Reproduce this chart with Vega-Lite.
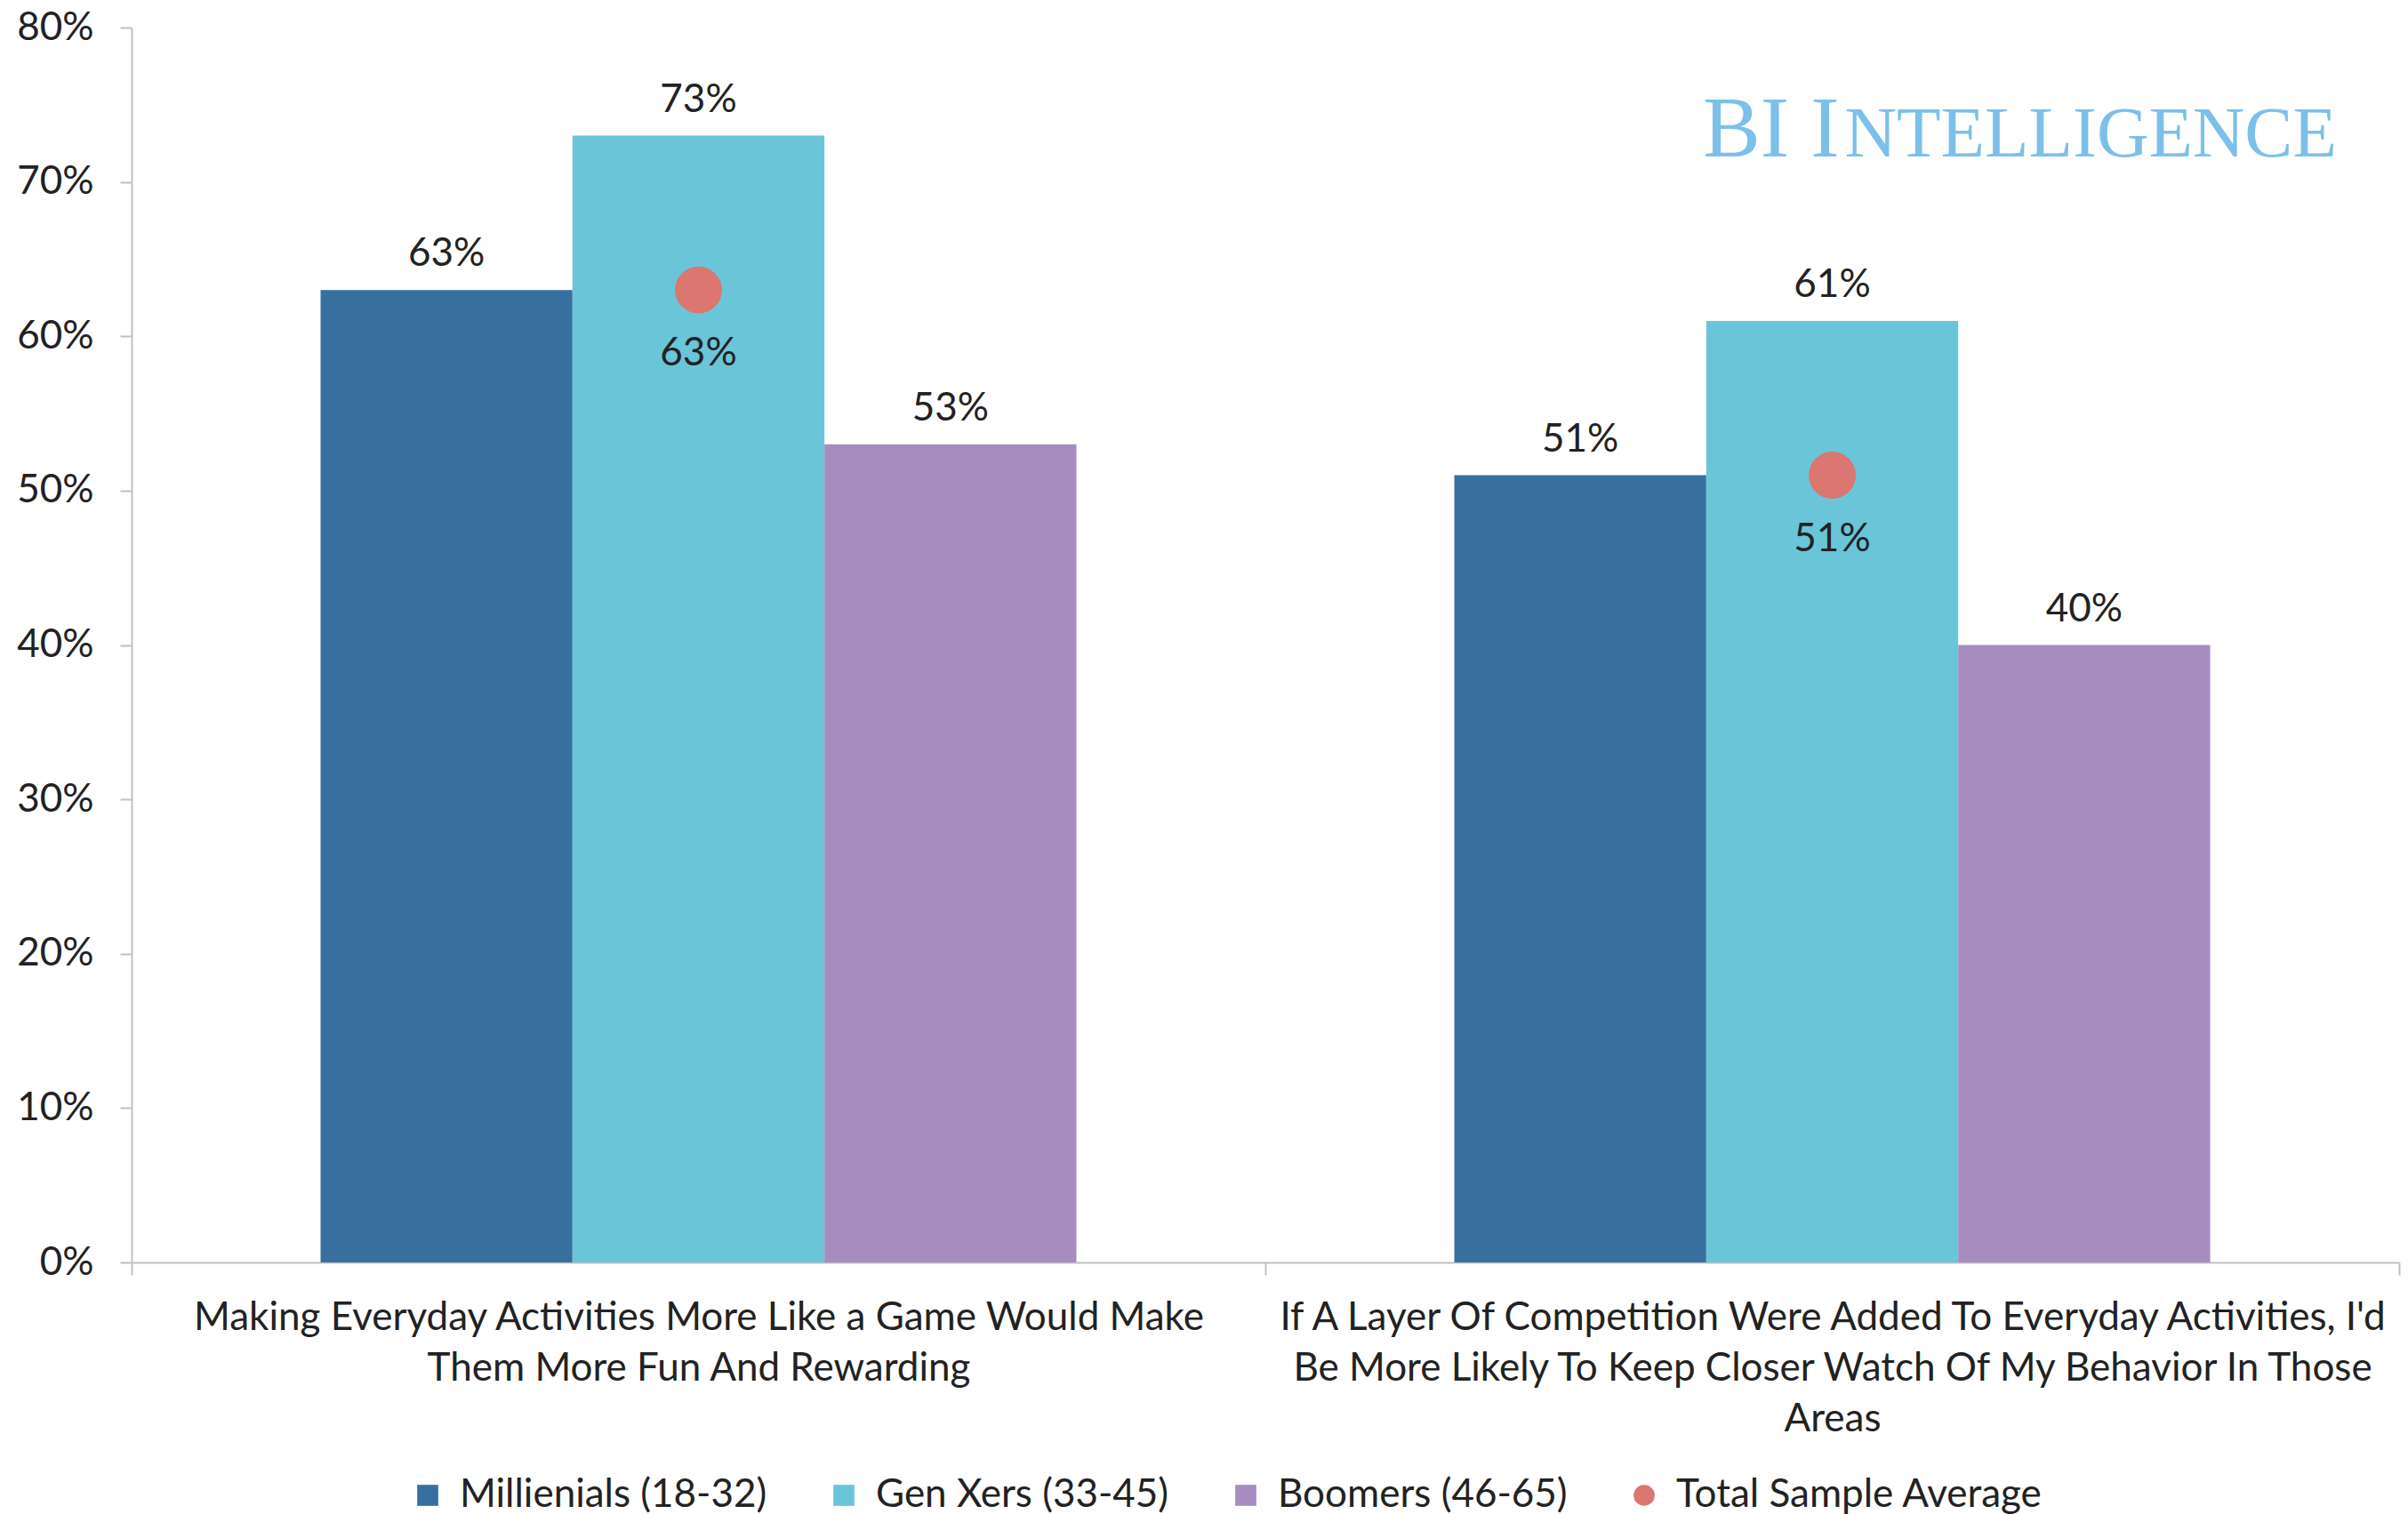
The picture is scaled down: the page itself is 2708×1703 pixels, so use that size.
{
  "$schema": "https://vega.github.io/schema/vega-lite/v6.json",
  "width": 2550,
  "height": 1389,
  "autosize": {"type": "none"},
  "padding": {"left": 148, "top": 31, "right": 10, "bottom": 283},
  "background": "white",
  "config": {
    "font": "Lato",
    "view": {"stroke": null},
    "axis": {"labelFont": "Lato", "labelFontSize": 44, "labelColor": "#222222", "domainColor": "#c0c0c0", "tickColor": "#c0c0c0", "domainWidth": 2, "tickWidth": 2, "grid": false, "title": null, "labelOverlap": false},
    "legend": {"labelFont": "Lato", "labelFontSize": 44, "labelColor": "#222222", "labelLimit": 1000, "symbolSize": 560, "labelOffset": 14, "columnPadding": 64, "symbolStrokeWidth": 0}
  },
  "datasets": {
    "bars": [
      {"q": "Making Everyday Activities More Like a Game Would Make|Them More Fun And Rewarding", "series": "Millienials (18-32)", "value": 0.63},
      {"q": "Making Everyday Activities More Like a Game Would Make|Them More Fun And Rewarding", "series": "Gen Xers (33-45)", "value": 0.73},
      {"q": "Making Everyday Activities More Like a Game Would Make|Them More Fun And Rewarding", "series": "Boomers (46-65)", "value": 0.53},
      {"q": "If A Layer Of Competition Were Added To Everyday Activities, I'd|Be More Likely To Keep Closer Watch Of My Behavior In Those|Areas", "series": "Millienials (18-32)", "value": 0.51},
      {"q": "If A Layer Of Competition Were Added To Everyday Activities, I'd|Be More Likely To Keep Closer Watch Of My Behavior In Those|Areas", "series": "Gen Xers (33-45)", "value": 0.61},
      {"q": "If A Layer Of Competition Were Added To Everyday Activities, I'd|Be More Likely To Keep Closer Watch Of My Behavior In Those|Areas", "series": "Boomers (46-65)", "value": 0.40}
    ],
    "avg": [
      {"q": "Making Everyday Activities More Like a Game Would Make|Them More Fun And Rewarding", "series": "Total Sample Average", "pos": "Gen Xers (33-45)", "value": 0.63},
      {"q": "If A Layer Of Competition Were Added To Everyday Activities, I'd|Be More Likely To Keep Closer Watch Of My Behavior In Those|Areas", "series": "Total Sample Average", "pos": "Gen Xers (33-45)", "value": 0.51}
    ],
    "brand": [
      {"big": "BI I", "small": "NTELLIGENCE"}
    ]
  },
  "layer": [
    {
      "data": {"name": "bars"},
      "mark": {"type": "bar"},
      "encoding": {
        "x": {"field": "q", "type": "nominal", "scale": {"domain": ["Making Everyday Activities More Like a Game Would Make|Them More Fun And Rewarding", "If A Layer Of Competition Were Added To Everyday Activities, I'd|Be More Likely To Keep Closer Watch Of My Behavior In Those|Areas"], "paddingInner": 0, "paddingOuter": 0}, "axis": {"labelAngle": 0, "labelExpr": "split(datum.label, '|')", "labelLineHeight": 57, "labelPadding": 26, "tickSize": 14, "tickBand": "extent", "labelLimit": 2000, "labelBaseline": "top"}},
        "xOffset": {"field": "series", "type": "nominal", "scale": {"domain": ["Millienials (18-32)", "Gen Xers (33-45)", "Boomers (46-65)"], "paddingInner": 0, "paddingOuter": 0.75}},
        "y": {"field": "value", "type": "quantitative", "scale": {"domain": [0, 0.8]}, "axis": {"format": ".0%", "values": [0, 0.1, 0.2, 0.3, 0.4, 0.5, 0.6, 0.7, 0.8], "tickSize": 13, "labelPadding": 30}},
        "color": {"field": "series", "type": "nominal", "scale": {"domain": ["Millienials (18-32)", "Gen Xers (33-45)", "Boomers (46-65)", "Total Sample Average"], "range": ["#37709e", "#6bc5d9", "#a68cbf", "#db7670"]}, "legend": {"title": null, "orient": "none", "direction": "horizontal", "legendX": 311, "legendY": 1629}}
      }
    },
    {
      "data": {"name": "bars"},
      "mark": {"type": "text", "dy": -40, "fontSize": 44, "color": "#222222", "baseline": "middle"},
      "encoding": {
        "x": {"field": "q", "type": "nominal"},
        "xOffset": {"field": "series", "type": "nominal"},
        "y": {"field": "value", "type": "quantitative"},
        "text": {"field": "value", "type": "quantitative", "format": ".0%"}
      }
    },
    {
      "data": {"name": "avg"},
      "mark": {"type": "point", "filled": true, "opacity": 1, "size": 2800},
      "encoding": {
        "x": {"field": "q", "type": "nominal"},
        "xOffset": {"field": "pos", "type": "nominal"},
        "y": {"field": "value", "type": "quantitative"},
        "color": {"field": "series", "type": "nominal", "legend": {"title": null}},
        "shape": {"field": "series", "type": "nominal", "scale": {"domain": ["Millienials (18-32)", "Gen Xers (33-45)", "Boomers (46-65)", "Total Sample Average"], "range": ["square", "square", "square", "circle"]}, "legend": {"title": null, "orient": "none", "direction": "horizontal", "legendX": 311, "legendY": 1629}}
      }
    },
    {
      "data": {"name": "avg"},
      "mark": {"type": "text", "dy": 72, "fontSize": 44, "color": "#222222", "baseline": "middle"},
      "encoding": {
        "x": {"field": "q", "type": "nominal"},
        "xOffset": {"field": "pos", "type": "nominal"},
        "y": {"field": "value", "type": "quantitative"},
        "text": {"field": "value", "type": "quantitative", "format": ".0%"}
      }
    },
    {
      "data": {"name": "brand"},
      "mark": {"type": "text", "font": "Liberation Serif", "fontSize": 97, "color": "#7cc0ea", "align": "right", "baseline": "alphabetic", "dx": 8},
      "encoding": {
        "x": {"datum": "If A Layer Of Competition Were Added To Everyday Activities, I'd|Be More Likely To Keep Closer Watch Of My Behavior In Those|Areas"},
        "xOffset": {"datum": "Gen Xers (33-45)"},
        "y": {"datum": 0.7166},
        "text": {"field": "big"}
      }
    },
    {
      "data": {"name": "brand"},
      "mark": {"type": "text", "font": "Liberation Serif", "fontSize": 81, "color": "#7cc0ea", "align": "left", "baseline": "alphabetic", "dx": 14},
      "encoding": {
        "x": {"datum": "If A Layer Of Competition Were Added To Everyday Activities, I'd|Be More Likely To Keep Closer Watch Of My Behavior In Those|Areas"},
        "xOffset": {"datum": "Gen Xers (33-45)"},
        "y": {"datum": 0.7166},
        "text": {"field": "small"}
      }
    }
  ]
}
